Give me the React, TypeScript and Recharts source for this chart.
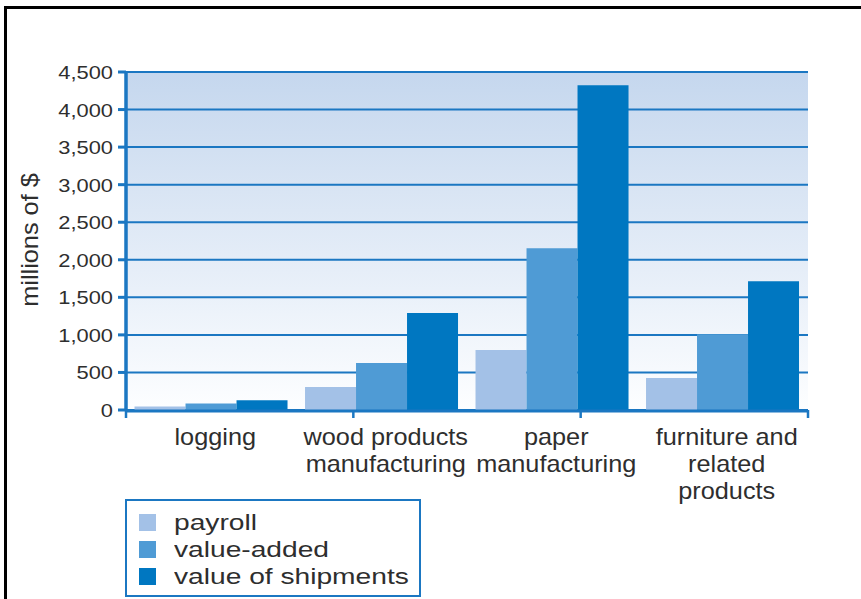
import React from "react";
import { BarChart, Bar, XAxis, YAxis, CartesianGrid, ReferenceLine } from "recharts";

const categories = [
    "logging",
    "wood products\nmanufacturing",
    "paper\nmanufacturing",
    "furniture and\nrelated\nproducts",
];
const payroll = [45, 305, 800, 425];
const valueAdded = [85, 625, 2155, 1010];
const shipments = [130, 1290, 4325, 1715];
const yTicks = [0, 500, 1000, 1500, 2000, 2500, 3000, 3500, 4000, 4500];
const boundaryTicks = [0, 1, 2, 3, 4];

const SERIES = [
    { key: "payroll", name: "payroll", color: "#a3c1e7" },
    { key: "valueAdded", name: "value-added", color: "#4f9bd5" },
    { key: "shipments", name: "value of shipments", color: "#0077c1" },
];

const BLUE = "#1b77c2";
const TEXT = "#2e2e2e";
const FONT = "'Liberation Sans', Arial, sans-serif";

// plot box in page pixels
const W = 861;
const H = 599;
const PLOT_LEFT = 126;
const PLOT_TOP = 72;
const PLOT_RIGHT = 808;
const PLOT_BOTTOM = 410;

const data = categories.map((name, i) => ({
    name,
    payroll: payroll[i],
    valueAdded: valueAdded[i],
    shipments: shipments[i],
}));

const YTick = (props: any) => {
    const { x, y, payload } = props;
    return (
        <text
            transform={`translate(${x},${y + 7}) scale(1.15,1)`}
            textAnchor="end"
            fontSize={19}
            fontFamily={FONT}
            fill={TEXT}
        >
            {payload.value.toLocaleString("en-US")}
        </text>
    );
};

const CatTick = (props: any) => {
    const { x, y, payload } = props;
    const lines = String(payload.value).split("\n");
    return (
        <g transform={`translate(${x + 4},${y + 34}) scale(1.1,1)`}>
            {lines.map((line, i) => (
                <text
                    key={i}
                    x={0}
                    y={i * 27}
                    textAnchor="middle"
                    fontSize={23}
                    fontFamily={FONT}
                    fill={TEXT}
                >
                    {line}
                </text>
            ))}
        </g>
    );
};

const NoTick = () => <g />;

export default function App() {
    return (
        <div
            style={{
                position: "absolute",
                left: 0,
                top: 0,
                width: W,
                height: H,
                background: "#fff",
                overflow: "hidden",
            }}
        >
            {/* frame, top and left only */}
            <div
                style={{
                    position: "absolute",
                    left: 4,
                    top: 6,
                    right: -10,
                    bottom: -10,
                    borderTop: "3px solid #000",
                    borderLeft: "3px solid #000",
                }}
            />
            {/* plot background gradient */}
            <div
                style={{
                    position: "absolute",
                    left: PLOT_LEFT,
                    top: PLOT_TOP,
                    width: PLOT_RIGHT - PLOT_LEFT,
                    height: PLOT_BOTTOM - PLOT_TOP,
                    background: "linear-gradient(to bottom, #c5d7ee, #fdfeff)",
                }}
            />
            <div style={{ position: "absolute", left: 0, top: 0 }}>
                <BarChart
                    width={W}
                    height={H}
                    data={data}
                    margin={{
                        top: PLOT_TOP,
                        right: W - PLOT_RIGHT,
                        left: 0,
                        bottom: H - PLOT_BOTTOM - 2,
                    }}
                    barCategoryGap="5%"
                    barGap={0}
                >
                    <CartesianGrid vertical={false} stroke={BLUE} strokeWidth={2} />
                    {SERIES.map((s) => (
                        <Bar
                            key={s.key}
                            xAxisId="cat"
                            dataKey={s.key}
                            name={s.name}
                            fill={s.color}
                            isAnimationActive={false}
                        />
                    ))}
                    <XAxis
                        xAxisId="cat"
                        dataKey="name"
                        height={1}
                        stroke={BLUE}
                        strokeWidth={3}
                        axisLine={true}
                        tickLine={false}
                        tickSize={0}
                        tickMargin={0}
                        tick={<CatTick />}
                        interval={0}
                    />
                    <XAxis
                        xAxisId="bounds"
                        type="number"
                        domain={[0, 4]}
                        ticks={boundaryTicks}
                        interval={0}
                        height={1}
                        stroke={BLUE}
                        strokeWidth={2.5}
                        axisLine={false}
                        tick={<NoTick />}
                        tickSize={8}
                        tickLine={{ stroke: BLUE, strokeWidth: 2.5 }}
                        allowDataOverflow
                    />
                    <YAxis
                        width={PLOT_LEFT}
                        domain={[0, 4500]}
                        ticks={yTicks}
                        interval={0}
                        stroke={BLUE}
                        strokeWidth={3}
                        tickSize={8}
                        tickMargin={5}
                        tickLine={true}
                        axisLine={true}
                        tick={<YTick />}
                    />
                    {/* y axis line, drawn from the boundary axis */}
                    <ReferenceLine
                        xAxisId="bounds"
                        x={0}
                        stroke={BLUE}
                        strokeWidth={3}
                        ifOverflow="visible"
                    />
                    <text
                        transform="translate(38,240) rotate(-90) scale(1.1,1)"
                        textAnchor="middle"
                        fontSize={23}
                        fontFamily={FONT}
                        fill={TEXT}
                    >
                        millions of $
                    </text>
                </BarChart>
            </div>
            {/* legend */}
            <div
                style={{
                    position: "absolute",
                    left: 125,
                    top: 499,
                    width: 292,
                    height: 94,
                    border: `2px solid ${BLUE}`,
                    fontFamily: FONT,
                    fontSize: 22,
                    color: TEXT,
                }}
            >
                {SERIES.map((s, i) => (
                    <div
                        key={s.key}
                        style={{
                            position: "absolute",
                            left: 12,
                            top: 8 + i * 27,
                            height: 27,
                            display: "flex",
                            alignItems: "center",
                            whiteSpace: "nowrap",
                        }}
                    >
                        <span
                            style={{
                                width: 17,
                                height: 17,
                                background: s.color,
                                display: "inline-block",
                                marginRight: 18,
                            }}
                        />
                        <span
                            style={{
                                display: "inline-block",
                                transform: "scaleX(1.28)",
                                transformOrigin: "left center",
                                lineHeight: "27px",
                            }}
                        >
                            {s.name}
                        </span>
                    </div>
                ))}
            </div>
        </div>
    );
}
